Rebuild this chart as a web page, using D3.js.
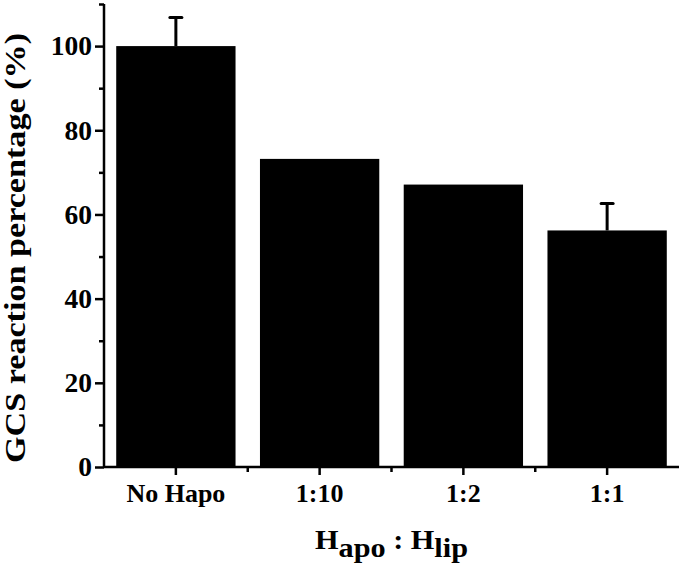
<!DOCTYPE html>
<html>
<head>
<meta charset="utf-8">
<script src="https://cdn.jsdelivr.net/npm/d3@7"></script>
<style>
  body { margin: 0; background: #fff; }
  text { font-family: "Liberation Serif", "Times New Roman", serif; font-weight: bold; }
</style>
</head>
<body>
<div id="chart"></div>
<script>
var groups = ["No Hapo", "1:10", "1:2", "1:1"];
var values = [100, 73.2, 67.1, 56.2];
var errors = [6.8, 0, 0, 6.4];
var yTicks = [0, 20, 40, 60, 80, 100];
var yMinorTicks = [10, 30, 50, 70, 90, 110];

var width = 685, height = 566;

var svg = d3.select("#chart")
    .append("svg")
    .attr("width", width)
    .attr("height", height)

var x = d3.scaleBand()
    .domain(groups)
    .range([104, 679])
    .paddingInner(0.17)
    .paddingOuter(0.085)

var y = d3.scaleLinear()
    .domain([0, 110])
    .range([467, 4])

// bars
svg.append("g")
    .selectAll("rect")
    .data(values)
    .join("rect")
      .attr("x", (d, i) => x(groups[i]))
      .attr("y", d => y(d))
      .attr("width", x.bandwidth())
      .attr("height", d => y(0) - y(d))
      .attr("fill", "#000")

// error bars (only drawn where there is one)
var errG = svg.append("g")
    .selectAll("g")
    .data(values.map((v, i) => ({v: v, e: errors[i], g: groups[i]})).filter(d => d.e > 0))
    .join("g")

errG.append("line")
    .attr("x1", d => x(d.g) + x.bandwidth() / 2)
    .attr("x2", d => x(d.g) + x.bandwidth() / 2)
    .attr("y1", d => y(d.v))
    .attr("y2", d => y(d.v + d.e))
    .attr("stroke", "#000")
    .attr("stroke-width", 3)

errG.append("line")
    .attr("x1", d => x(d.g) + x.bandwidth() / 2 - 6)
    .attr("x2", d => x(d.g) + x.bandwidth() / 2 + 6)
    .attr("y1", d => y(d.v + d.e))
    .attr("y2", d => y(d.v + d.e))
    .attr("stroke", "#000")
    .attr("stroke-width", 3)
    .attr("stroke-linecap", "round")

// y axis
var yAxis = svg.append("g")
    .attr("transform", "translate(104,0)")
    .call(d3.axisLeft(y).tickValues(yTicks).tickSize(9).tickPadding(3))

yAxis.select(".domain").attr("d", "M0," + y(110) + "V" + y(0)).attr("stroke-width", 2.5)
yAxis.selectAll(".tick line").attr("stroke-width", 2.5)
yAxis.selectAll(".tick text")
    .attr("font-size", 27.5)
    .attr("font-family", "Liberation Serif")
    .attr("font-weight", "bold")
    .attr("fill", "#000")

svg.append("g")
    .attr("transform", "translate(104,0)")
    .call(d3.axisLeft(y).tickValues(yMinorTicks).tickSize(5).tickFormat(""))
    .call(g => g.select(".domain").remove())
    .selectAll(".tick line").attr("stroke-width", 2.5)

// x axis
var xAxis = svg.append("g")
    .attr("transform", "translate(0," + y(0) + ")")
    .call(d3.axisBottom(x).tickSize(8).tickPadding(9))

xAxis.select(".domain").attr("d", "M104,0H679").attr("stroke-width", 2.5)
xAxis.selectAll(".tick line").attr("stroke-width", 2.5)
xAxis.selectAll(".tick text")
    .attr("font-size", 26)
    .attr("font-family", "Liberation Serif")
    .attr("font-weight", "bold")
    .attr("fill", "#000")

// minor ticks between the groups
var step = x.step();
var xMinor = groups.slice(0, -1).map(g => x(g) + x.bandwidth() / 2 + step / 2);
svg.append("g")
    .selectAll("line")
    .data(xMinor)
    .join("line")
      .attr("x1", d => d)
      .attr("x2", d => d)
      .attr("y1", y(0))
      .attr("y2", y(0) + 5)
      .attr("stroke", "#000")
      .attr("stroke-width", 2.5)

// axis titles
var xTitle = svg.append("text")
    .attr("x", 391.5)
    .attr("y", 549)
    .attr("text-anchor", "middle")
    .attr("font-size", 26.5)
    .attr("textLength", 153)
    .attr("lengthAdjust", "spacingAndGlyphs")

xTitle.append("tspan").text("H")
xTitle.append("tspan").attr("dy", 8).text("apo")
xTitle.append("tspan").attr("dy", -8).text(" : H")
xTitle.append("tspan").attr("dy", 8).text("lip")

svg.append("text")
    .attr("transform", "translate(25,248) rotate(-90)")
    .attr("text-anchor", "middle")
    .attr("font-size", 29)
    .attr("textLength", 430)
    .attr("lengthAdjust", "spacingAndGlyphs")
    .text("GCS reaction percentage (%)")
</script>
</body>
</html>
